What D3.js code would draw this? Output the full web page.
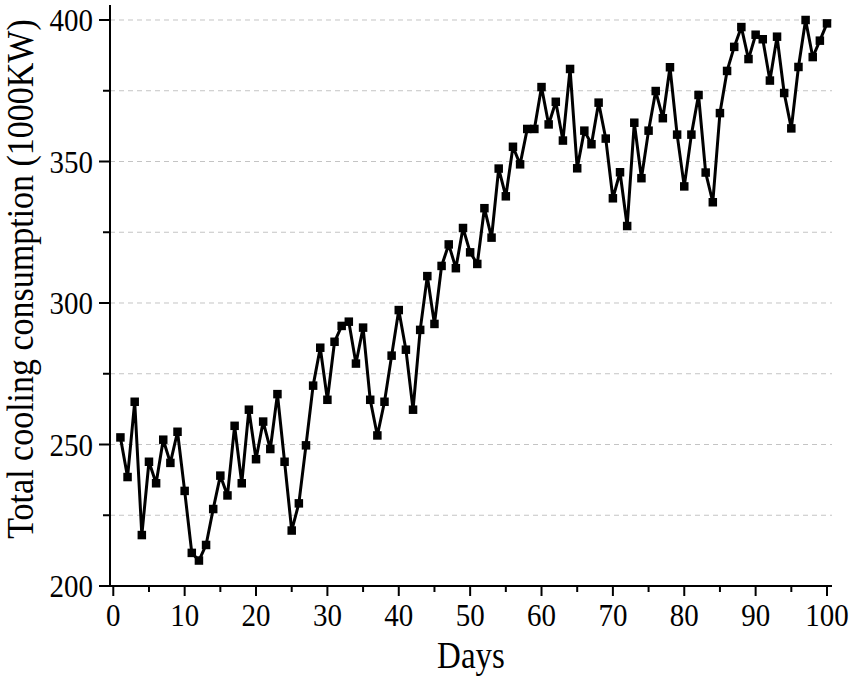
<!DOCTYPE html>
<html><head><meta charset="utf-8">
<script src="https://cdn.jsdelivr.net/npm/d3@7"></script>
<style>body{margin:0;background:#fff}svg{display:block}</style>
</head><body><svg id="c" width="852" height="676"></svg>
<script>
const days = d3.range(1, 101);
const consumption = [
252.5,238.5,265.1,218.0,243.9,236.3,251.7,243.5,254.5,233.6,
211.7,209.0,214.5,227.2,239.0,232.0,256.6,236.3,262.3,244.8,
258.1,248.4,267.8,243.9,219.6,229.2,249.7,270.8,284.2,265.8,
286.3,291.9,293.4,278.6,291.3,265.8,253.2,265.1,281.4,297.5,
283.5,262.3,290.5,309.5,292.6,313.1,320.7,312.3,326.5,317.9,
313.8,333.5,323.1,347.5,337.7,355.2,349.0,361.5,361.5,376.3,
363.1,371.1,357.4,382.7,347.6,360.9,356.1,370.8,358.1,337.0,
346.2,327.2,363.7,344.1,360.9,374.9,365.3,383.3,359.5,341.2,
359.5,373.5,346.1,335.6,367.1,382.0,390.5,397.5,386.2,394.8,
393.2,378.6,394.1,374.2,361.7,383.4,400.0,386.9,392.7,398.8];
const xTicks = [0,10,20,30,40,50,60,70,80,90,100];
const xMinor = [5,15,25,35,45,55,65,75,85,95];
const yTicks = [200,250,300,350,400];
const yMinor = [225,275,325,375];
const gridVals = [225,250,275,300,325,350,375,400];
const xLabel = "Days";
const yLabel = "Total cooling consumption (1000KW)";

const svg = d3.select("#c");
const font = "'Liberation Serif','Times New Roman',serif";
const x = d3.scaleLinear().domain([-0.46, 100.7]).range([110, 832]);
const y = d3.scaleLinear().domain([200, 405.3]).range([586, 5]);
const S = 1.12; // vertical stretch of glyphs

// grid
svg.append("g").selectAll("line").data(gridVals).join("line")
  .attr("x1", 110).attr("x2", 832)
  .attr("y1", d => y(d)).attr("y2", d => y(d))
  .attr("stroke", "#c4c4c4").attr("stroke-width", 1).attr("stroke-dasharray", "5,4");

// x axis
const gx = svg.append("g").attr("transform", "translate(0,586)");
gx.append("line").attr("x1", 109).attr("x2", 832).attr("stroke", "#000").attr("stroke-width", 2);
gx.selectAll(".maj").data(xTicks).join("line").attr("class","maj")
  .attr("x1", d => x(d)).attr("x2", d => x(d)).attr("y1", 0).attr("y2", 10)
  .attr("stroke", "#000").attr("stroke-width", 2);
gx.selectAll(".min").data(xMinor).join("line").attr("class","min")
  .attr("x1", d => x(d)).attr("x2", d => x(d)).attr("y1", 0).attr("y2", 6)
  .attr("stroke", "#000").attr("stroke-width", 2);
gx.selectAll("text").data(xTicks).join("text")
  .attr("transform", d => `translate(${x(d)},40) scale(1,${S})`).attr("text-anchor", "middle")
  .attr("font-family", font).attr("font-size", 29).text(d => d);

// y axis
const gy = svg.append("g").attr("transform", "translate(110,0)");
gy.append("line").attr("y1", 5).attr("y2", 587).attr("stroke", "#000").attr("stroke-width", 2);
gy.selectAll(".maj").data(yTicks).join("line").attr("class","maj")
  .attr("x1", -11).attr("x2", 0).attr("y1", d => y(d)).attr("y2", d => y(d))
  .attr("stroke", "#000").attr("stroke-width", 2);
gy.selectAll(".min").data(yMinor).join("line").attr("class","min")
  .attr("x1", -7).attr("x2", 0).attr("y1", d => y(d)).attr("y2", d => y(d))
  .attr("stroke", "#000").attr("stroke-width", 2);
gy.selectAll("text").data(yTicks).join("text")
  .attr("transform", d => `translate(-17,${y(d)}) scale(1,${S})`).attr("dy", "0.34em").attr("text-anchor", "end")
  .attr("font-family", font).attr("font-size", 29).text(d => d);

// axis titles
svg.append("text").attr("transform", `translate(471,668) scale(1,${S})`).attr("text-anchor", "middle")
  .attr("font-family", font).attr("font-size", 33).text(xLabel);
svg.append("text").attr("transform", `translate(33,279) rotate(-90) scale(1,${S})`).attr("text-anchor", "middle")
  .attr("font-family", font).attr("font-size", 34).text(yLabel);

// line and markers
const data = days.map((d, i) => ({d, v: consumption[i]}));
svg.append("path").datum(data)
  .attr("d", d3.line().x(p => x(p.d)).y(p => y(p.v)))
  .attr("fill", "none").attr("stroke", "#000").attr("stroke-width", 3).attr("stroke-linejoin", "round");
svg.append("g").selectAll("rect").data(data).join("rect")
  .attr("x", p => x(p.d) - 4.25).attr("y", p => y(p.v) - 4.25)
  .attr("width", 8.5).attr("height", 8.5).attr("fill", "#000");
</script></body></html>
